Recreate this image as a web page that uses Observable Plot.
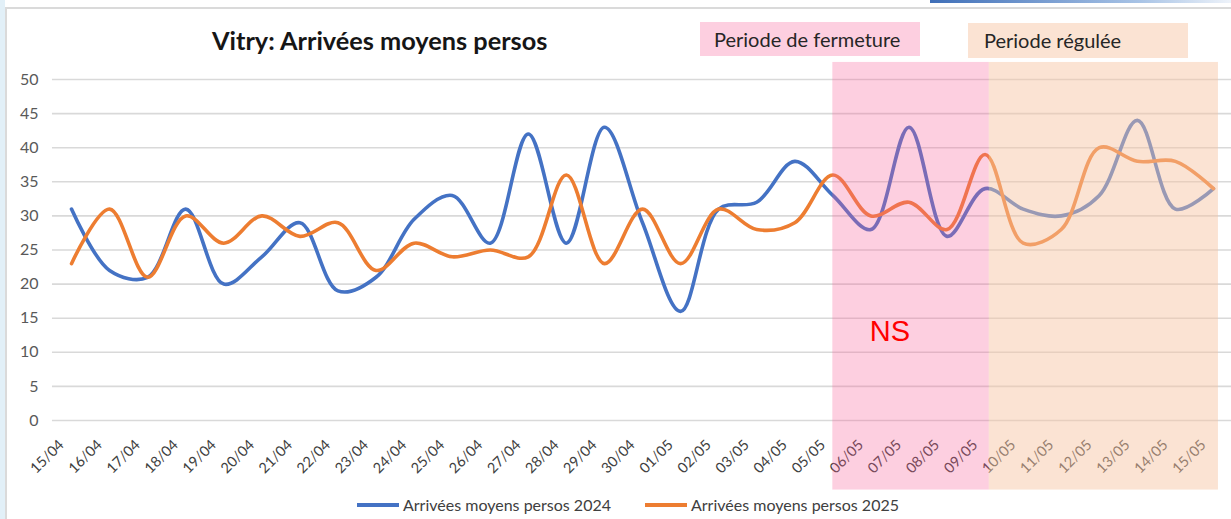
<!DOCTYPE html>
<html>
<head>
<meta charset="utf-8">
<script src="https://cdn.jsdelivr.net/npm/d3@7"></script>
<script src="https://cdn.jsdelivr.net/npm/@observablehq/plot@0.6"></script>
<style>
  html, body { margin: 0; padding: 0; background: #fff; }
  #wrap { position: relative; width: 1231px; height: 519px; overflow: hidden; background: #fff; font-family: Lato, "Open Sans", sans-serif; }
  #wrap svg { position: absolute; left: 0; top: 0; }
  .strip { position: absolute; left: 0; top: 0; width: 5px; height: 519px; background: #e2f0f8; }
  .frame { position: absolute; left: 5px; top: 7px; width: 1240px; height: 530px; border-top: 2px solid #dadada; border-left: 2px solid #dadada; }
  .topbar { position: absolute; left: 930px; top: 0; width: 301px; height: 3px; background: linear-gradient(90deg, #3f6fb8, #a9c4e6 70%, #eef3fa); }
  .title { position: absolute; left: 212px; top: 25px; font-weight: bold; font-size: 25.3px; color: #161616; white-space: nowrap; }
  .tag { position: absolute; font-size: 20px; color: #262626; white-space: nowrap; box-sizing: border-box; }
  .legend { position: absolute; top: 495px; display: flex; align-items: center; font-size: 16px; color: #404040; white-space: nowrap; }
  .legend .sw { display: inline-block; width: 42px; height: 4px; margin-right: 4px; }
</style>
</head>
<body>
<div id="wrap"></div>
<script>
// ---- data ----
const dates = ["15/04","16/04","17/04","18/04","19/04","20/04","21/04","22/04","23/04","24/04","25/04","26/04","27/04","28/04","29/04","30/04",
               "01/05","02/05","03/05","04/05","05/05","06/05","07/05","08/05","09/05","10/05","11/05","12/05","13/05","14/05","15/05"];
const arrivees2024 = [31,22,21,31,20,24,29,19,21,29.5,33,26,42,26,43,29,16,31,32,38,33,28,43,27,34,31,30,33,44,31,34];
const arrivees2025 = [23,31,21,30,26,30,27,29,22,26,24,25,24,36,23,31,23,31,28,29,36,30,32,28,39,26,28,40,38,38,34];
const yTicks = [0,5,10,15,20,25,30,35,40,45,50];
const seriesNames = ["Arrivées moyens persos 2024", "Arrivées moyens persos 2025"];
const seriesColors = ["#4472C4", "#ED7D31"];
const periods = [
  {label: "Periode de fermeture", start: "05/05", end: "09/05", fill: "#f85f98", opacity: 0.3, tagFill: "#fdcfe0"},
  {label: "Periode régulée", start: "09/05", end: "15/05", fill: "#f7c5a3", opacity: 0.48, tagFill: "#fbe3d3"}
];
const notes = [{date: "06/05", offset: 0.5, value: 13, text: "NS"}];
const title = "Vitry: Arrivées moyens persos";

// ---- build ----
const idx = d => dates.indexOf(d);
const rows = [];
[arrivees2024, arrivees2025].forEach((arr, s) => arr.forEach((v, i) => rows.push({i, v, s: seriesNames[s]})));
const bandRows = periods.map((p, k) => ({
  ...p,
  x1: idx(p.start) + (k === 0 ? 0 : 0.11),
  x2: idx(p.end) + (k === 0 ? 0.11 : 0.13)
}));

const chart = Plot.plot({
  width: 1231, height: 519,
  marginLeft: 71, marginRight: 18, marginTop: 79, marginBottom: 99,
  x: {type: "linear", domain: [0, dates.length - 1]},
  y: {domain: [0, 50]},
  color: {domain: seriesNames, range: seriesColors},
  style: {background: "transparent", fontFamily: "Lato, 'Open Sans', sans-serif", overflow: "visible"},
  marks: [
    Plot.ruleY(yTicks, {x1: -0.5, x2: 32, stroke: "#d9d9d9", strokeWidth: 1.6}),
    Plot.axisY(yTicks, {tickSize: 0, tickPadding: 33, fontSize: 16, fill: "#595959", label: null}),
    Plot.axisX(d3.range(dates.length), {tickSize: 0, tickPadding: 17, dx: -10, dy: 5, tickRotate: -45, tickFormat: i => dates[i], fontSize: 14.5, fill: "#404040", label: null}),
    Plot.line(rows, {x: "i", y: "v", z: "s", stroke: "s", strokeWidth: 3.6, curve: "catmull-rom"}),
    Plot.rect(bandRows, {x1: "x1", x2: "x2", y1: -10.2, y2: 52.5, fill: "fill", fillOpacity: "opacity"}),
    Plot.text(notes, {x: d => idx(d.date) + d.offset, y: "value", text: "text", fill: "#ff0000", fontSize: 29, fontFamily: "'Liberation Sans', Arial, sans-serif"})
  ]
});

const wrap = document.getElementById("wrap");
wrap.insertAdjacentHTML("beforeend", `<div class="strip"></div><div class="frame"></div><div class="topbar"></div>`);
wrap.appendChild(chart);

const t = document.createElement("div");
t.className = "title"; t.textContent = title;
wrap.appendChild(t);

const tagBoxes = [{left: 700, top: 22, width: 220, height: 34, pad: 14}, {left: 968, top: 23, width: 220, height: 35, pad: 16}];
periods.forEach((p, k) => {
  const b = tagBoxes[k];
  const d = document.createElement("div");
  d.className = "tag";
  Object.assign(d.style, {left: b.left + "px", top: b.top + "px", width: b.width + "px", height: b.height + "px",
    background: p.tagFill, paddingLeft: b.pad + "px", lineHeight: b.height + "px"});
  d.textContent = p.label;
  wrap.appendChild(d);
});

const legendLeft = [357, 645];
seriesNames.forEach((n, k) => {
  const d = document.createElement("div");
  d.className = "legend";
  d.style.left = legendLeft[k] + "px";
  d.innerHTML = `<span class="sw" style="background:${seriesColors[k]}"></span><span>${n}</span>`;
  wrap.appendChild(d);
});
</script>
</body>
</html>
